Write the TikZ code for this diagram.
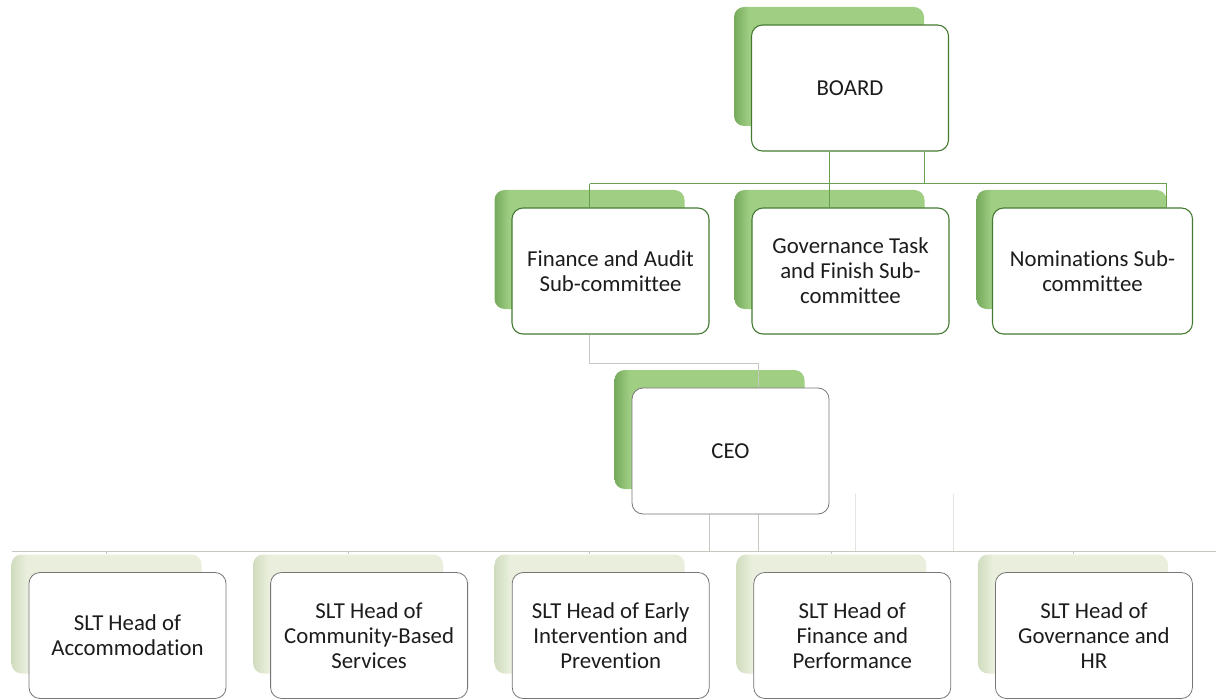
\documentclass[tikz,border=0pt]{standalone}
\usepackage{fontspec}
\setmainfont{Carlito}[Ligatures=NoCommon]
\pgfdeclarelayer{backboxes}
\pgfdeclarelayer{links}
\pgfsetlayers{backboxes,links,main}

\definecolor{upDark}{RGB}{118,170,92}
\definecolor{upLight}{RGB}{160,207,132}
\definecolor{lowDark}{RGB}{208,220,190}
\definecolor{lowLight}{RGB}{233,239,220}
\definecolor{frameGreen}{RGB}{68,122,48}
\definecolor{frameGrey}{RGB}{118,118,118}
\definecolor{linkGreen}{RGB}{104,160,80}
\definecolor{linkGrey}{RGB}{196,200,190}
\definecolor{textInk}{RGB}{28,28,28}

% cards get a narrow darker strip along their left edge
\pgfdeclarehorizontalshading{upshade}{100bp}{color(0bp)=(upDark); color(25bp)=(upDark);
  color(29bp)=(upLight); color(75bp)=(upLight); color(100bp)=(upLight)}
\pgfdeclarehorizontalshading{lowshade}{100bp}{color(0bp)=(lowDark); color(25bp)=(lowDark);
  color(29bp)=(lowLight); color(75bp)=(lowLight); color(100bp)=(lowLight)}

% one chart unit: shaded card behind, white card in front
\newcommand\orgunit[6]{%
  \begin{pgfonlayer}{backboxes}
    \node[#4] (#1-back) at (#2-21,#3-21.5) {};
  \end{pgfonlayer}
  \node[#5] (#1) at (#2,#3) {#6};
}

\begin{document}
\begin{tikzpicture}[x=1pt,y=-1pt,
  cardfont/.style={font=\fontsize{22.8}{25}\selectfont, text=textInk},
  frontcard/.style={cardfont, fill=white, rounded corners=11pt, minimum width=197pt,
    minimum height=126pt, inner sep=0pt, align=center},
  frontup/.style={frontcard, draw=frameGreen, line width=1.1pt},
  frontlow/.style={frontcard, draw=frameGrey, line width=0.8pt},
  backcard/.style={rounded corners=10pt, minimum width=190pt, minimum height=119pt, inner sep=0pt},
  backup/.style={backcard, shading=upshade},
  backlow/.style={backcard, shading=lowshade},
  gline/.style={draw=linkGreen, line width=1pt},
  cline/.style={draw=linkGrey, line width=0.8pt},
  faintline/.style={draw=linkGrey!50, line width=0.6pt}]
\useasboundingbox (0,0) rectangle (1222,700);

% board and sub-committees
\orgunit{board}{850}{88}{backup}{frontup}{BOARD}
\orgunit{fin}{610.5}{271}{backup}{frontup}{Finance and Audit\\Sub-committee}
\orgunit{gov}{850.5}{271}{backup}{frontup}{Governance Task\\and Finish Sub-\\committee}
\orgunit{nom}{1092.5}{271}{backup}{frontup,minimum width=200pt}{Nominations Sub-\\committee}

% chief executive
\orgunit{ceo}{730.5}{451}{backup}{frontlow}{CEO}

% senior leadership team
\orgunit{slta}{127.5}{635.5}{backlow}{frontlow}{SLT Head of\\Accommodation}
\orgunit{sltb}{369.1}{635.5}{backlow}{frontlow}{SLT Head of\\Community-Based\\Services}
\orgunit{sltc}{610.7}{635.5}{backlow}{frontlow}{SLT Head of Early\\Intervention and\\Prevention}
\orgunit{sltd}{852.3}{635.5}{backlow}{frontlow}{SLT Head of\\Finance and\\Performance}
\orgunit{slte}{1093.9}{635.5}{backlow}{frontlow}{SLT Head of\\Governance and\\HR}

\coordinate (busA) at (0,184);
\coordinate (busB) at (0,363);
\coordinate (busC) at (0,551);
\coordinate (drop) at (758,0);
\coordinate (busL) at (12,551);
\coordinate (busR) at (1216,551);
\coordinate (ghostA) at (855,494);
\coordinate (ghostB) at (953,494);

\begin{pgfonlayer}{links}
  % board to sub-committees
  \draw[gline] (board-back.south |- board.south) -- (board-back.south |- busA);
  \draw[gline] (board-back.east |- board.south) -- (board-back.east |- busA);
  \draw[gline] (fin-back.north |- busA) -- (nom-back.east |- busA);
  \draw[gline] (fin-back.north |- busA) -- (fin-back.north |- fin.north);
  \draw[gline] (gov-back.north |- busA) -- (gov-back.north |- gov.north);
  \draw[gline] (nom-back.east |- busA) -- (nom-back.east |- nom.north);
  % finance sub-committee to CEO
  \draw[cline] (fin-back.south |- fin.south) -- (fin-back.south |- busB)
     -- (drop |- busB) -- (drop |- busC);
  % CEO to senior leadership team
  \draw[cline] (ceo-back.south |- ceo.south) -- (ceo-back.south |- busC);
  \draw[faintline] (ghostA) -- (ghostA |- busC);
  \draw[faintline] (ghostB) -- (ghostB |- busC);
  \draw[cline] (busL) -- (busR);
  \foreach \u in {slta,sltb,sltc,sltd,slte}
    \draw[cline] (\u-back.north |- busC) -- (\u-back.north);
\end{pgfonlayer}
\end{tikzpicture}
\end{document}
